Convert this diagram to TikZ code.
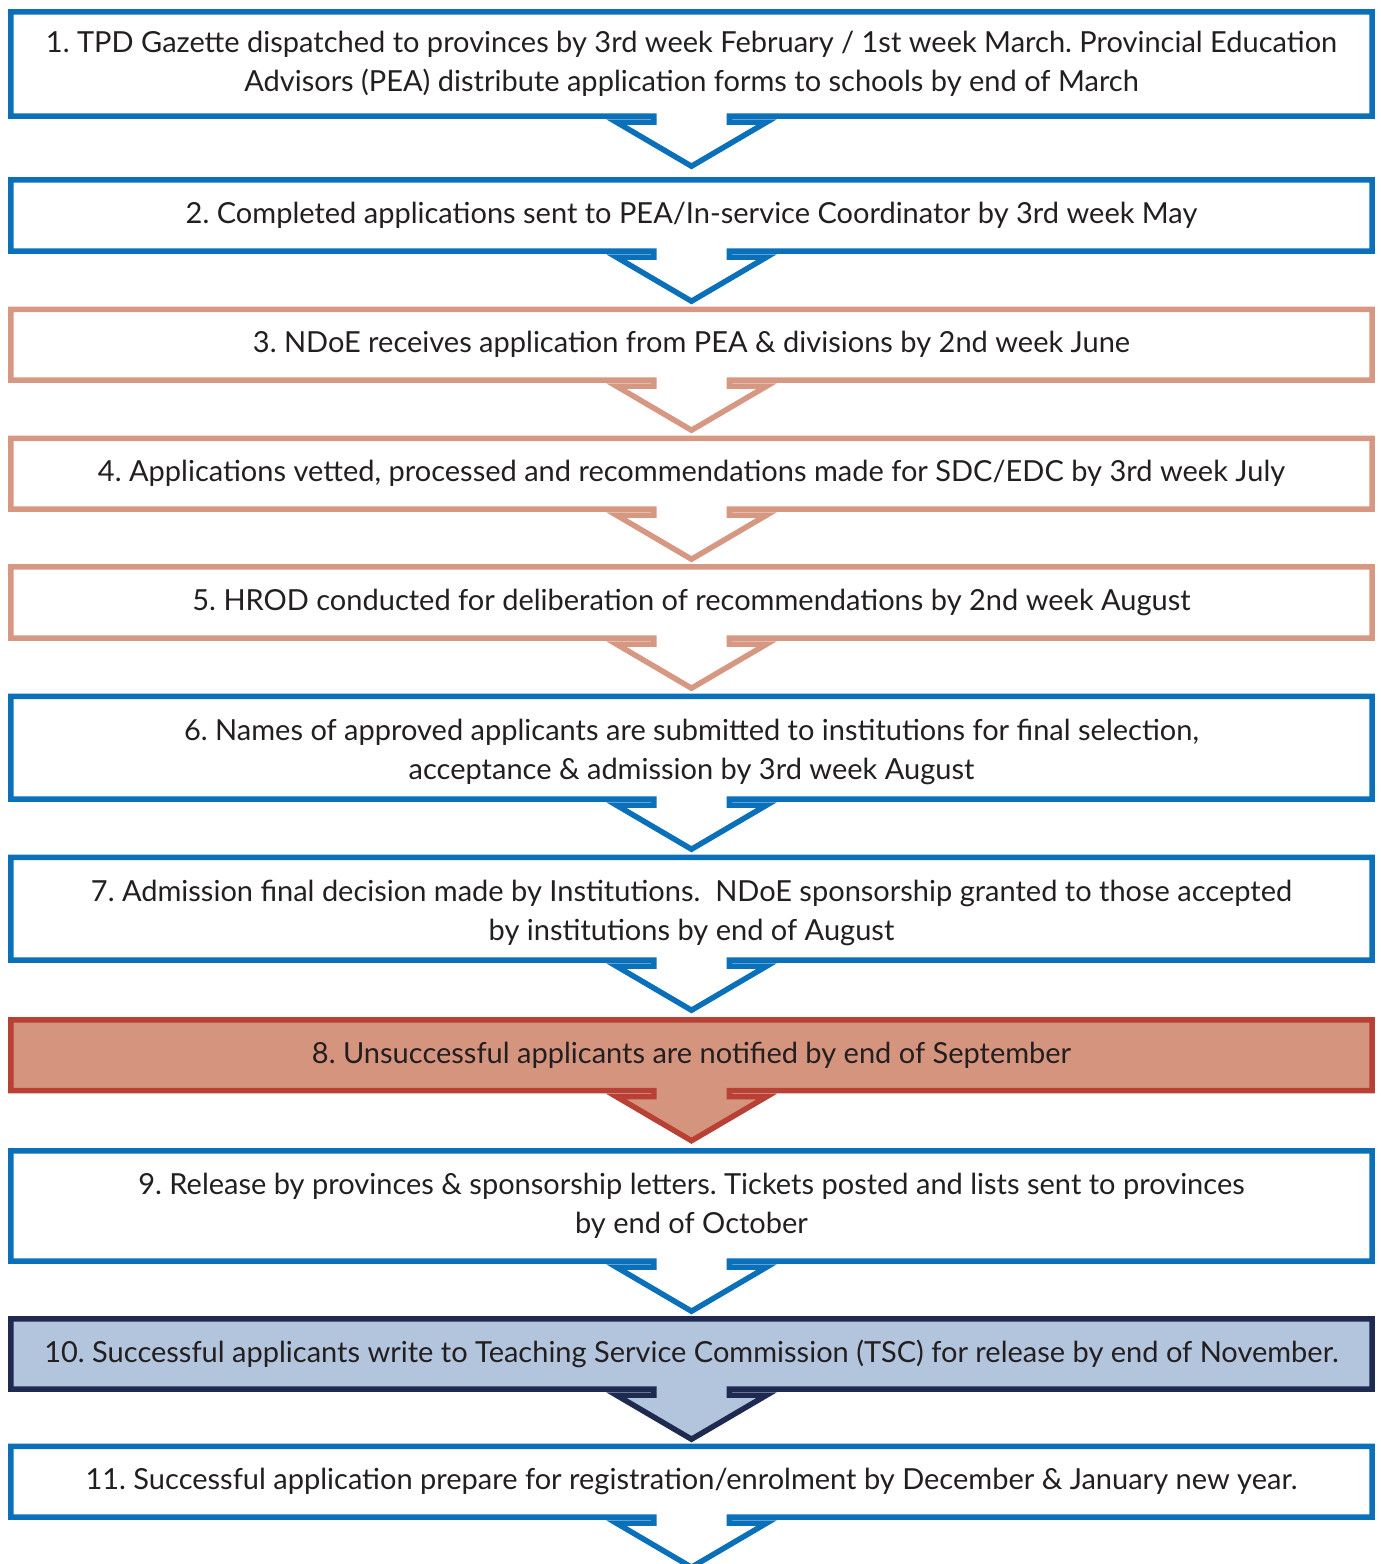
\documentclass[tikz,border=0pt]{standalone}
\usepackage{fontspec}
\setmainfont{Lato}
\usetikzlibrary{calc,backgrounds}
\frenchspacing

\definecolor{flowblue}{RGB}{11,112,186}
\definecolor{flowsalmon}{RGB}{214,152,130}
\definecolor{alertline}{RGB}{184,64,52}
\definecolor{alertfill}{RGB}{213,148,126}
\definecolor{navyline}{RGB}{30,42,80}
\definecolor{navyfill}{RGB}{179,196,221}
\definecolor{inkgrey}{RGB}{35,31,32}

\tikzset{
  stage/.style={rectangle, minimum width=1361pt, inner sep=0pt,
    align=center, text=inkgrey, font=\fontsize{29}{39}\selectfont},
  frame/.style={line width=5.5pt, line join=miter, miter limit=10},
}

% taller first-line strut, pushes two-line text slightly lower in its box
\newcommand\lowerstrut{\rule{0pt}{29pt}}

% Box outline with a hollow chevron arrow growing out of its bottom edge
\newcommand\stageframe[3]{%
  \draw[frame, draw=#2, fill=#3]
    (#1.north west) -- (#1.north east) -- (#1.south east)
    -- ($(#1.south)+(37.75,0)$) -- ($(#1.south)+(37.75,6)$)
    -- ($(#1.south)+(75,6)$) -- ($(#1.south)+(0,50)$)
    -- ($(#1.south)+(-75,6)$) -- ($(#1.south)+(-37.75,6)$)
    -- ($(#1.south)+(-37.75,0)$) -- (#1.south west) -- cycle;}

\begin{document}
\begin{tikzpicture}[x=1pt, y=-1pt]
  \path[use as bounding box] (0,0) rectangle (1381,1564);
  \clip (0,0) rectangle (1381,1564);

  \node[stage, minimum height=104pt] (s1) at (691.5,64)
    {1. TPD Gazette dispatched to provinces by 3rd week February / 1st week March. Provincial Education\\
     Advisors (PEA) distribute application forms to schools by end of March};
  \node[stage, minimum height=71pt] (s2) at (691.5,215.5)
    {2. Completed applications sent to PEA/In-service Coordinator by 3rd week May};
  \node[stage, minimum height=70.5pt] (s3) at (691.5,344.75)
    {3. NDoE receives application from PEA \& divisions by 2nd week June};
  \node[stage, minimum height=70.5pt] (s4) at (691.5,473.75)
    {4. Applications vetted, processed and recommendations made for SDC/EDC by 3rd week July};
  \node[stage, minimum height=71pt] (s5) at (691.5,602.5)
    {5. HROD conducted for deliberation of recommendations by 2nd week August};
  \node[stage, minimum height=102.5pt] (s6) at (691.5,747.75)
    {\lowerstrut 6. Names of approved applicants are submitted to institutions for final selection,\\
     acceptance \& admission by 3rd week August};
  \node[stage, minimum height=102.5pt] (s7) at (691.5,908.75)
    {\lowerstrut 7. Admission final decision made by Institutions.\ \ NDoE sponsorship granted to those accepted\\
     by institutions by end of August};
  \node[stage, minimum height=70.5pt] (s8) at (691.5,1055.25)
    {8. Unsuccessful applicants are notified by end of September};
  \node[stage, minimum height=110pt] (s9) at (691.5,1206)
    {9. Release by provinces \& sponsorship letters. Tickets posted and lists sent to provinces\\
     by end of October};
  \node[stage, minimum height=70pt] (s10) at (691.5,1354)
    {10. Successful applicants write to Teaching Service Commission (TSC) for release by end of November.};
  \node[stage, minimum height=70.5pt] (s11) at (691.5,1481.75)
    {11. Successful application prepare for registration/enrolment by December \& January new year.};

  \begin{pgfonlayer}{background}
    \stageframe{s1}{flowblue}{white}
    \stageframe{s2}{flowblue}{white}
    \stageframe{s3}{flowsalmon}{white}
    \stageframe{s4}{flowsalmon}{white}
    \stageframe{s5}{flowsalmon}{white}
    \stageframe{s6}{flowblue}{white}
    \stageframe{s7}{flowblue}{white}
    \stageframe{s8}{alertline}{alertfill}
    \stageframe{s9}{flowblue}{white}
    \stageframe{s10}{navyline}{navyfill}
    \stageframe{s11}{flowblue}{white}
  \end{pgfonlayer}
\end{tikzpicture}
\end{document}
